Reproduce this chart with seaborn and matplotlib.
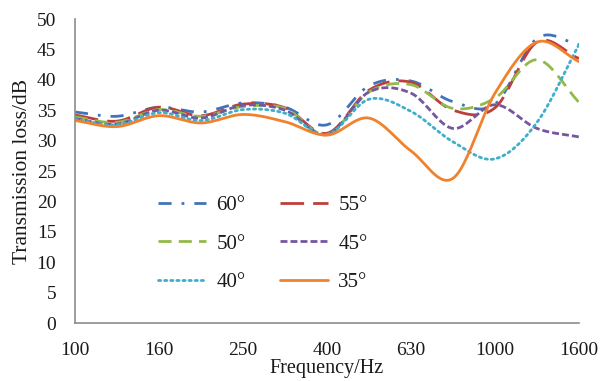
import numpy as np
import pandas as pd
import matplotlib
matplotlib.use("Agg")
import matplotlib.pyplot as plt
import seaborn as sns

# 1/3-octave band centre frequencies (categorical axis)
freq_labels = ["100", "125", "160", "200", "250", "315", "400",
               "500", "630", "800", "1000", "1250", "1600"]
angle_labels = ["60°", "55°", "50°", "45°", "40°", "35°"]

tl_60 = [34.7, 34.0, 35.5, 34.7, 36.2, 35.5, 32.6, 39.0, 39.8, 36.4, 36.0, 46.8, 45.8]
tl_55 = [34.2, 33.2, 35.5, 34.1, 36.0, 35.4, 31.2, 38.3, 39.6, 35.0, 35.4, 46.2, 43.5]
tl_50 = [33.9, 33.0, 35.1, 34.0, 35.6, 35.3, 31.0, 38.0, 39.2, 35.3, 37.0, 43.3, 36.3]
tl_45 = [33.6, 32.7, 35.0, 33.7, 35.8, 35.0, 31.0, 38.0, 37.8, 32.0, 35.9, 32.0, 30.6]
tl_40 = [33.5, 32.6, 34.6, 33.3, 35.1, 34.5, 31.0, 36.8, 34.8, 29.8, 27.0, 33.0, 45.8]
tl_35 = [33.3, 32.3, 34.1, 32.9, 34.3, 33.1, 30.9, 33.7, 28.3, 23.8, 37.8, 46.2, 43.0]

series = [tl_60, tl_55, tl_50, tl_45, tl_40, tl_35]
colors = ["#3F74BA", "#BE3E3B", "#92BA4A", "#7557A0", "#3FAECB", "#F0822E"]
styles = [(0, (9.4, 7.2, 2.0, 7.2)), (0, (17, 6.5)), (0, (9.4, 5.2)),
          (0, (5.0, 2.2)), (0, (1.6, 2.8)), "-"]


def smooth(y, n=24):
    """Catmull-Rom rendering of a line through the category points (like Excel's smoothed line)."""
    y = np.asarray(y, float)
    p = np.concatenate([[2 * y[0] - y[1]], y, [2 * y[-1] - y[-2]]])
    xs, ys = [], []
    for i in range(len(y) - 1):
        p0, p1, p2, p3 = p[i], p[i + 1], p[i + 2], p[i + 3]
        t = np.linspace(0, 1, n, endpoint=(i == len(y) - 2))
        v = 0.5 * ((2 * p1) + (-p0 + p2) * t + (2 * p0 - 5 * p1 + 4 * p2 - p3) * t ** 2
                   + (-p0 + 3 * p1 - 3 * p2 + p3) * t ** 3)
        xs.append(i + t)
        ys.append(v)
    return np.concatenate(xs), np.concatenate(ys)


sns.set_style("white")
plt.rcParams["font.family"] = ["Liberation Serif", "DejaVu Serif"]
plt.rcParams["lines.scale_dashes"] = False

fig = plt.figure(figsize=(6.02, 3.81), dpi=100)
ax = fig.add_axes([75 / 602, 1 - 323 / 381, 504 / 602, 304 / 381])

for vals, lab, c, ls in zip(series, angle_labels, colors, styles):
    xs, ys = smooth(vals)
    df = pd.DataFrame({"x": xs, "y": ys})
    sns.lineplot(data=df, x="x", y="y", ax=ax, color=c, linestyle=ls,
                 linewidth=2.0, label=lab, sort=False, estimator=None,
                 dash_capstyle="round" if lab == "40°" else "butt")

ax.set_xlim(0, len(freq_labels) - 1)
ax.set_ylim(0, 50)
ax.set_xticks(range(len(freq_labels)))
ax.set_xticklabels([l if i % 2 == 0 else "" for i, l in enumerate(freq_labels)])
ax.set_yticks(range(0, 51, 5))

spine_col = "#8C8C8C"
for s in ["top", "right"]:
    ax.spines[s].set_visible(False)
for s in ["left", "bottom"]:
    ax.spines[s].set_color(spine_col)
    ax.spines[s].set_linewidth(1.2)
ax.tick_params(axis="both", direction="out", length=5, width=1.2, color=spine_col,
               labelsize=14, labelcolor="#1a1a1a")
ax.tick_params(axis="x", pad=9)
ax.tick_params(axis="y", pad=8.5)

ax.set_xlabel("Frequency/Hz", fontsize=14.5, color="#1a1a1a", labelpad=0)
ax.set_ylabel("Transmission loss/dB", fontsize=15.5, color="#1a1a1a", labelpad=3)

# row-major legend order (60,55 / 50,45 / 40,35) -> column-major handle order
handles, labels = ax.get_legend_handles_labels()
order = [0, 2, 4, 1, 3, 5]
leg = ax.legend([handles[i] for i in order], [labels[i] for i in order],
                ncol=2, loc="upper left", bbox_to_anchor=(0.165, 0.42),
                frameon=False, fontsize=15, handlelength=2.3, handletextpad=0.5,
                columnspacing=1.65, labelspacing=0.92, borderpad=0, borderaxespad=0)
for t in leg.get_texts():
    t.set_color("#1a1a1a")

fig.savefig("out.png", dpi=100)
